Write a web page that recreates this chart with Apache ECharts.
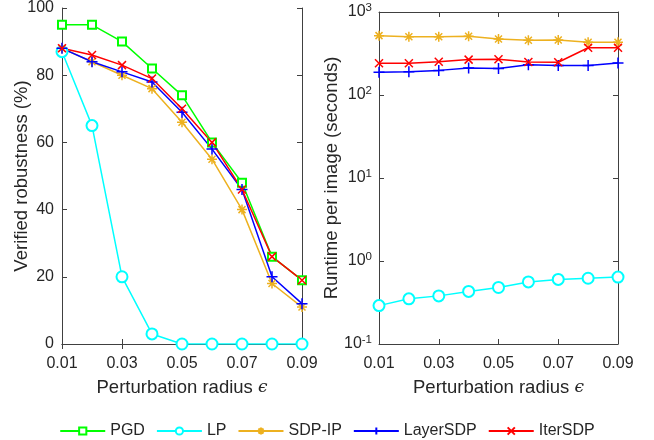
<!DOCTYPE html>
<html><head><meta charset="utf-8">
<script src="https://cdn.jsdelivr.net/npm/echarts@6/dist/echarts.min.js"></script>
<style>html,body{margin:0;padding:0;background:#fff}#c{width:654px;height:440px}</style>
</head><body><div id="c"></div>
<script>
const categories = ['0.01','0.02','0.03','0.04','0.05','0.06','0.07','0.08','0.09'];
const pgd      = [95, 95, 90, 82, 74, 60, 48, 26, 19];
const lp       = [87, 65, 20, 3, 0, 0, 0, 0, 0];
const sdpip    = [88, 84, 80, 76, 66, 55, 40, 18, 11];
const layersdp = [88, 84, 81, 78, 69, 58, 46, 20, 12];
const itersdp  = [88, 86, 83, 79, 70, 60, 46, 26, 19];
const lpTime    = [0.29, 0.35, 0.38, 0.43, 0.48, 0.56, 0.60, 0.62, 0.64];
const sdpipTime = [519, 504, 504, 510, 473, 456, 460, 431, 431];
const layerTime = [188, 190, 198, 211, 208, 232, 226, 226, 243];
const iterTime  = [241, 241, 252, 267, 270, 250, 248, 371, 371];

const FONT = 'Liberation Sans';
const TXT = '#262626';
const AX = '#404040';
const TICK_FS = 16;
const TITLE_FS = 18.5;
const C = {pgd:'#00ff00', lp:'#00ffff', sdp:'#EDB120', layer:'#0000ff', iter:'#ff0000'};
const SYM = {
  pgd: 'emptyRect',
  lp: 'emptyCircle',
  sdp: 'path://M5,0L5,10M0,5L10,5M1.5,1.5L8.5,8.5M8.5,1.5L1.5,8.5',
  layer: 'path://M5,0L5,10M0,5L10,5',
  iter: 'path://M0,0L10,10M10,0L0,10'
};
const SIZE = {pgd: 8, lp: 11, sdp: 10, layer: 11, iter: 8};

function mkSeries(name, key, data, xi, yi) {
  const isPath = SYM[key].startsWith('path');
  return {
    name, type: 'line', data, xAxisIndex: xi, yAxisIndex: yi,
    symbol: SYM[key], symbolSize: SIZE[key], showAllSymbol: true,
    lineStyle: {color: C[key], width: 1.5},
    itemStyle: {color: isPath ? 'none' : C[key], borderColor: C[key], borderWidth: 1.5},
    emphasis: {disabled: true}, animation: false, z: 2
  };
}

const epsName = 'Perturbation radius {e|ϵ}';
const nameRich = {e: {fontFamily: 'DejaVu Serif', fontStyle: 'italic', fontSize: 17, color: TXT}};

function xMain(gi) {
  return {
    type: 'category', gridIndex: gi, data: categories, boundaryGap: false,
    name: epsName, nameLocation: 'middle', nameGap: 34, nameMoveOverlap: false,
    nameTextStyle: {fontFamily: FONT, fontSize: TITLE_FS, color: TXT, rich: nameRich},
    axisLine: {lineStyle: {color: AX, width: 1}},
    axisTick: {inside: true, length: 5, interval: 1, lineStyle: {color: AX}},
    axisLabel: {interval: 1, fontFamily: FONT, fontSize: TICK_FS, color: TXT, margin: 12},
    splitLine: {show: false}
  };
}
function xTop(gi) {
  return {
    type: 'category', gridIndex: gi, data: categories, boundaryGap: false, position: 'top',
    axisLine: {lineStyle: {color: AX, width: 1}},
    axisTick: {inside: true, length: 5, interval: 1, lineStyle: {color: AX}},
    axisLabel: {show: false}, splitLine: {show: false}
  };
}

const logFmt = function (v) {
  const e = Math.round(Math.log10(v));
  return '{b|10}{s|' + e + '}';
};
const logRich = {
  b: {fontFamily: FONT, fontSize: TICK_FS, color: TXT},
  s: {fontFamily: FONT, fontSize: 11.5, color: TXT, padding: [0, 0, 9, 0]}
};

const option = {
  backgroundColor: '#fff',
  animation: false,
  grid: [
    {left: 62, top: 8, width: 240, height: 336},
    {left: 379, top: 12, width: 239, height: 332}
  ],
  legend: {
    data: ['PGD', 'LP', 'SDP-IP', 'LayerSDP', 'IterSDP'],
    left: 'center', top: 418, itemWidth: 45, itemHeight: 9, itemGap: 11,
    selectedMode: false,
    textStyle: {fontFamily: FONT, fontSize: 16, color: TXT}
  },
  xAxis: [xMain(0), xTop(0), xMain(1), xTop(1)],
  yAxis: [
    {type: 'value', gridIndex: 0, min: 0, max: 100, interval: 20,
     name: 'Verified robustness (%)', nameLocation: 'middle', nameGap: 31, nameMoveOverlap: false,
     nameTextStyle: {fontFamily: FONT, fontSize: TITLE_FS, color: TXT},
     axisLine: {show: true, lineStyle: {color: AX}},
     axisTick: {show: true, inside: true, length: 5, lineStyle: {color: AX}},
     axisLabel: {fontFamily: FONT, fontSize: TICK_FS, color: TXT, margin: 8},
     splitLine: {show: false}},
    {type: 'value', gridIndex: 0, min: 0, max: 100, interval: 20, position: 'right',
     axisLine: {show: true, lineStyle: {color: AX}},
     axisTick: {show: true, inside: true, length: 5, lineStyle: {color: AX}},
     axisLabel: {show: false}, splitLine: {show: false}},
    {type: 'log', logBase: 10, gridIndex: 1, min: 0.1, max: 1000,
     name: 'Runtime per image (seconds)', nameLocation: 'middle', nameGap: 38, nameMoveOverlap: false,
     nameTextStyle: {fontFamily: FONT, fontSize: TITLE_FS, color: TXT},
     axisLine: {show: true, lineStyle: {color: AX}},
     axisTick: {show: true, inside: true, length: 5, lineStyle: {color: AX}},
     axisLabel: {formatter: logFmt, rich: logRich, margin: 7},
     splitLine: {show: false}},
    {type: 'log', logBase: 10, gridIndex: 1, min: 0.1, max: 1000, position: 'right',
     axisLine: {show: true, lineStyle: {color: AX}},
     axisTick: {show: true, inside: true, length: 5, lineStyle: {color: AX}},
     axisLabel: {show: false}, splitLine: {show: false}}
  ],
  series: [
    mkSeries('PGD', 'pgd', pgd, 0, 0),
    mkSeries('LP', 'lp', lp, 0, 0),
    mkSeries('SDP-IP', 'sdp', sdpip, 0, 0),
    mkSeries('LayerSDP', 'layer', layersdp, 0, 0),
    mkSeries('IterSDP', 'iter', itersdp, 0, 0),
    mkSeries('LP', 'lp', lpTime, 2, 2),
    mkSeries('SDP-IP', 'sdp', sdpipTime, 2, 2),
    mkSeries('LayerSDP', 'layer', layerTime, 2, 2),
    mkSeries('IterSDP', 'iter', iterTime, 2, 2)
  ]
};
const chart = echarts.init(document.getElementById('c'), null, {renderer: 'canvas'});
chart.setOption(option);
</script>
</body></html>
